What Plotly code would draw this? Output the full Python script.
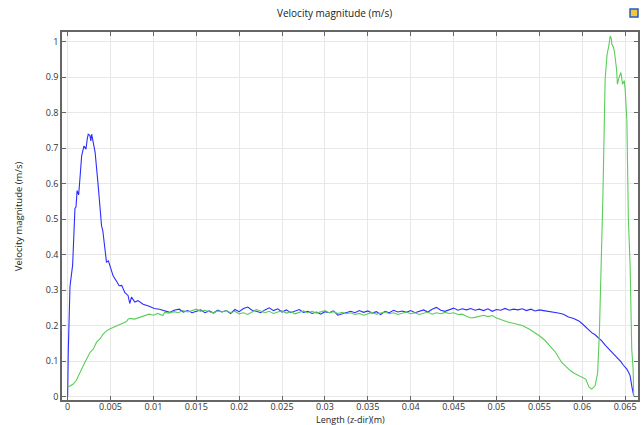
import plotly.graph_objects as go

# Velocity magnitude along the z-direction line, two cut lines
blue_x = [0.0, 0.00007, 0.00027, 0.00058, 0.00085, 0.00097, 0.0011, 0.00128, 0.00145, 0.00163,
          0.0019, 0.00213, 0.00228, 0.0024, 0.0026, 0.0027, 0.0028, 0.003, 0.0032, 0.00356,
          0.00395, 0.0041, 0.00434, 0.00453, 0.00475, 0.0049, 0.0053, 0.00577, 0.006, 0.0063,
          0.00666, 0.00705, 0.00724, 0.00744, 0.00783, 0.0082, 0.0088, 0.0095, 0.0101, 0.0107,
          0.0113, 0.0119, 0.0124, 0.013, 0.0135, 0.014, 0.0145, 0.015,
          0.0155, 0.0160, 0.0165, 0.0170, 0.0175, 0.0180, 0.0185, 0.0190, 0.0195, 0.0200,
          0.0205, 0.0210, 0.0215, 0.0220, 0.0225, 0.0230, 0.0235, 0.0240, 0.0245, 0.0250,
          0.0255, 0.0260, 0.0265, 0.0270, 0.0275, 0.0280, 0.0285, 0.0290, 0.0295, 0.0300,
          0.0305, 0.0310, 0.0315, 0.0320, 0.0325, 0.0330, 0.0335, 0.0340, 0.0345, 0.0350,
          0.0355, 0.0360, 0.0365, 0.0370, 0.0375, 0.0380, 0.0385, 0.0390, 0.0395, 0.0400,
          0.0405, 0.0410, 0.0415, 0.0420, 0.0425, 0.0430, 0.0435, 0.0440, 0.0445, 0.0450,
          0.0455, 0.0460, 0.0465, 0.0470, 0.0475, 0.0480, 0.0485, 0.0490, 0.0495, 0.0500,
          0.0505, 0.0510, 0.0515, 0.0520, 0.0525, 0.0530, 0.0535, 0.0540, 0.0545, 0.0550,
          0.0555, 0.0561, 0.0567, 0.0572, 0.0578, 0.0584, 0.0590, 0.0596, 0.0600, 0.0604,
          0.0608, 0.0611, 0.0615, 0.0619, 0.0623, 0.0627, 0.0631, 0.0634, 0.0638, 0.0642,
          0.0645, 0.0648, 0.0652, 0.0654, 0.06558, 0.06577, 0.0660]
blue_y = [0.0, 0.125, 0.31, 0.37, 0.53, 0.534, 0.58, 0.568, 0.62, 0.678,
          0.706, 0.697, 0.725, 0.739, 0.735, 0.72, 0.739, 0.716, 0.688, 0.594,
          0.481, 0.467, 0.425, 0.378, 0.382, 0.37, 0.34, 0.322, 0.312, 0.313,
          0.293, 0.284, 0.262, 0.28, 0.266, 0.27, 0.26, 0.254, 0.248, 0.246,
          0.242, 0.237, 0.243, 0.246, 0.238, 0.242, 0.236, 0.239,
          0.244, 0.236, 0.241, 0.235, 0.243, 0.238, 0.242, 0.234, 0.245, 0.239,
          0.248, 0.252, 0.243, 0.240, 0.236, 0.244, 0.250, 0.242, 0.247, 0.238,
          0.244, 0.236, 0.241, 0.245, 0.237, 0.240, 0.234, 0.238, 0.232, 0.239,
          0.236, 0.241, 0.229, 0.233, 0.238, 0.240, 0.236, 0.242, 0.237, 0.241,
          0.235, 0.239, 0.231, 0.240, 0.236, 0.243, 0.238, 0.241, 0.237, 0.242,
          0.236, 0.240, 0.244, 0.238, 0.246, 0.251, 0.243, 0.240, 0.245, 0.249,
          0.243, 0.247, 0.244, 0.248, 0.243, 0.246, 0.242, 0.247, 0.240, 0.245,
          0.243, 0.248, 0.243, 0.246, 0.244, 0.247, 0.242, 0.246, 0.241, 0.244,
          0.242, 0.240, 0.236, 0.235, 0.232, 0.224, 0.220, 0.213, 0.205, 0.196,
          0.188, 0.180, 0.174, 0.166, 0.156, 0.144, 0.134, 0.124, 0.116, 0.106,
          0.098, 0.088, 0.077, 0.068, 0.059, 0.030, 0.002]

green_x = [0.0, 0.00035, 0.00065, 0.001, 0.00143, 0.002, 0.0026, 0.003, 0.00337, 0.00376,
           0.00414, 0.00453, 0.0049, 0.0057, 0.0063, 0.00686, 0.00705, 0.00724, 0.0078, 0.0084,
           0.009, 0.0095, 0.0100, 0.0105, 0.0111, 0.0113, 0.0118, 0.0124, 0.0129, 0.01344,
           0.014, 0.0145, 0.015, 0.0155, 0.016, 0.01655, 0.017, 0.0175, 0.018, 0.0185,
           0.019, 0.0195, 0.0200, 0.0205, 0.0210, 0.0215, 0.0220, 0.0225, 0.0230, 0.0235,
           0.0240, 0.0245, 0.0250, 0.0255, 0.0260, 0.0265, 0.0270, 0.0275, 0.0280, 0.0285,
           0.0290, 0.0295, 0.0300, 0.0305, 0.0310, 0.0315, 0.0320, 0.0325, 0.0330, 0.0335,
           0.0340, 0.0345, 0.0350, 0.0355, 0.0360, 0.0365, 0.0370, 0.0375, 0.0380, 0.0385,
           0.0390, 0.0395, 0.0400, 0.0405, 0.0410, 0.0415, 0.0420, 0.0425, 0.0430, 0.0435,
           0.0440, 0.0445, 0.0450, 0.0455, 0.0460, 0.0465, 0.0470, 0.0475, 0.0480, 0.0485,
           0.0490, 0.0495, 0.0500, 0.0503, 0.0508, 0.0514, 0.0522, 0.0530, 0.0538, 0.0545,
           0.0550, 0.0557, 0.0563, 0.0569, 0.0576, 0.0581, 0.0586, 0.0591, 0.0596, 0.0604,
           0.0608, 0.0611, 0.0615, 0.0618, 0.0620, 0.0622, 0.0624, 0.06267, 0.0629, 0.0631,
           0.06326, 0.0634, 0.06344, 0.06364, 0.06376, 0.0640, 0.0641, 0.0643, 0.0645, 0.0647,
           0.0649, 0.0650, 0.0652, 0.06538, 0.06558, 0.06577, 0.06593, 0.0660]
green_y = [0.026, 0.030, 0.035, 0.045, 0.068, 0.096, 0.124, 0.134, 0.153, 0.162,
           0.176, 0.185, 0.190, 0.198, 0.204, 0.211, 0.218, 0.220, 0.218, 0.223,
           0.228, 0.232, 0.229, 0.234, 0.228, 0.237, 0.235, 0.239, 0.236, 0.242,
           0.238, 0.243, 0.246, 0.240, 0.243, 0.239, 0.236, 0.241, 0.238, 0.242,
           0.236, 0.240, 0.233, 0.236, 0.231, 0.238, 0.245, 0.241, 0.236, 0.240,
           0.234, 0.238, 0.241, 0.235, 0.239, 0.233, 0.237, 0.241, 0.236, 0.240,
           0.235, 0.238, 0.242, 0.236, 0.239, 0.234, 0.237, 0.233, 0.236, 0.231,
           0.234, 0.229, 0.233, 0.237, 0.232, 0.236, 0.238, 0.233, 0.236, 0.231,
           0.234, 0.238, 0.233, 0.236, 0.231, 0.235, 0.238, 0.232, 0.236, 0.233,
           0.237, 0.234, 0.236, 0.231, 0.232, 0.226, 0.221, 0.223, 0.226, 0.229,
           0.225, 0.228, 0.221, 0.218, 0.214, 0.209, 0.205, 0.200, 0.190, 0.180,
           0.171, 0.157, 0.140, 0.124, 0.096, 0.084, 0.073, 0.065, 0.059, 0.049,
           0.026, 0.021, 0.030, 0.068, 0.180, 0.368, 0.556, 0.894, 0.965, 0.988,
           1.016, 1.007, 0.993, 0.984, 0.970, 0.922, 0.880, 0.900, 0.913, 0.880,
           0.890, 0.866, 0.780, 0.500, 0.368, 0.134, 0.077, 0.000]

x_ticks = [0, 0.005, 0.01, 0.015, 0.02, 0.025, 0.03, 0.035, 0.04, 0.045, 0.05, 0.055, 0.06, 0.065]
x_labels = ["0", "0.005", "0.01", "0.015", "0.02", "0.025", "0.03", "0.035", "0.04",
            "0.045", "0.05", "0.055", "0.06", "0.065"]
y_ticks = [0, 0.1, 0.2, 0.3, 0.4, 0.5, 0.6, 0.7, 0.8, 0.9, 1]
y_labels = ["0", "0.1", "0.2", "0.3", "0.4", "0.5", "0.6", "0.7", "0.8", "0.9", "1"]

FONT = "Open Sans, DejaVu Sans, sans-serif"

fig = go.Figure()
fig.add_trace(go.Scatter(x=blue_x, y=blue_y, mode="lines",
                         line=dict(color="rgb(45,45,255)", width=1.1), showlegend=False))
fig.add_trace(go.Scatter(x=green_x, y=green_y, mode="lines",
                         line=dict(color="rgb(90,205,90)", width=1.1), showlegend=False))

axis_common = dict(
    showline=True, linecolor="#666666", linewidth=1.6, mirror="ticks",
    ticks="inside", ticklen=4, tickcolor="#666666", tickwidth=1,
    showgrid=True, gridcolor="#e8e8e8", gridwidth=1, zeroline=False,
    tickfont=dict(family=FONT, size=9, color="#333333"),
)

fig.update_layout(
    width=644, height=425,
    margin=dict(l=62, r=4, t=32, b=25),
    paper_bgcolor="white", plot_bgcolor="white",
    xaxis=dict(range=[-0.00066, 0.0665], tickvals=x_ticks, ticktext=x_labels,
               ticklabelstandoff=-3, **axis_common),
    yaxis=dict(range=[-0.0099, 1.027], tickvals=y_ticks, ticktext=y_labels, **axis_common),
    annotations=[
        dict(text="Velocity magnitude (m/s)", xref="paper", yref="paper",
             x=(335 - 62) / 578, y=(400 - 13) / 368, xanchor="center", yanchor="middle",
             showarrow=False, font=dict(family=FONT, size=10, color="#222222")),
        dict(text="Length (z-dir)(m)", xref="paper", yref="paper",
             x=0.5, y=(400 - 419) / 368, xanchor="center", yanchor="middle",
             showarrow=False, font=dict(family=FONT, size=9, color="#222222")),
        dict(text="Velocity magnitude (m/s)", xref="paper", yref="paper",
             x=(18 - 62) / 578, y=0.5, xanchor="center", yanchor="middle", textangle=-90,
             showarrow=False, font=dict(family=FONT, size=9.5, color="#222222")),
    ],
    shapes=[
        dict(type="rect", xref="paper", yref="paper",
             x0=(632 - 62) / 578, x1=(640 - 62) / 578,
             y0=(400 - 17) / 368, y1=(400 - 9) / 368,
             line=dict(color="rgb(40,90,200)", width=1.5), fillcolor="rgb(240,200,60)"),
    ],
)

fig.write_html("out.html")
